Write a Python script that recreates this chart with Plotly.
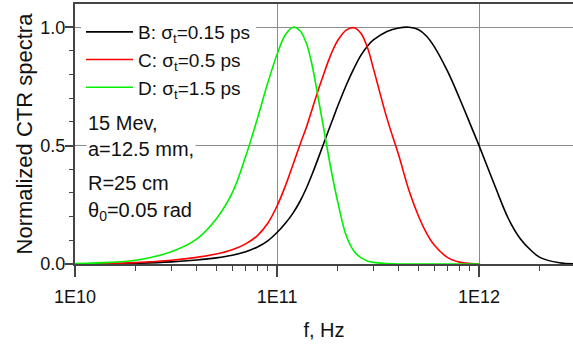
import plotly.graph_objects as go

# ---- data ----
freq_b = [1e10, 1.5e10, 2e10, 3e10, 4e10, 5e10, 6e10, 7e10, 8e10, 9e10,
          1.0e11, 1.1e11, 1.2e11, 1.3e11, 1.4e11, 1.5e11, 1.6e11, 1.7e11, 1.8e11, 1.9e11,
          2.0e11, 2.2e11, 2.4e11, 2.6e11, 2.8e11, 3.0e11, 3.5e11, 4.0e11, 4.5e11, 5.0e11,
          5.5e11, 6.0e11, 7.0e11, 8.0e11, 9.0e11, 1.0e12, 1.2e12, 1.4e12, 1.6e12, 1.8e12,
          2.0e12, 2.5e12, 2.95e12]
spec_b = [0.0, 0.001, 0.003, 0.009, 0.017, 0.026, 0.037, 0.052, 0.072, 0.098,
          0.133, 0.172, 0.215, 0.265, 0.322, 0.384, 0.447, 0.508, 0.565, 0.618,
          0.668, 0.755, 0.825, 0.881, 0.92, 0.946, 0.982, 0.997, 1.0, 0.99,
          0.962, 0.918, 0.812, 0.70, 0.595, 0.5, 0.328, 0.19, 0.107, 0.059,
          0.028, 0.005, 0.001]

freq_c = [1e10, 1.5e10, 2e10, 3e10, 4e10, 5e10, 6e10, 7e10, 8e10, 9e10,
          1.0e11, 1.1e11, 1.2e11, 1.3e11, 1.4e11, 1.5e11, 1.6e11, 1.7e11, 1.8e11, 1.9e11,
          2.0e11, 2.2e11, 2.4e11, 2.6e11, 2.8e11, 3.0e11, 3.5e11, 4.0e11, 4.5e11, 5.0e11,
          5.5e11, 6.0e11, 7.0e11, 8.0e11, 9.0e11, 1.0e12]
spec_c = [0.0, 0.002, 0.006, 0.016, 0.028, 0.042, 0.06, 0.085, 0.12, 0.172,
          0.245, 0.33, 0.42, 0.505, 0.58, 0.66, 0.735, 0.80, 0.86, 0.908,
          0.945, 0.988, 0.998, 0.975, 0.915, 0.825, 0.615, 0.46, 0.31, 0.205,
          0.13, 0.08, 0.027, 0.008, 0.002, 0.0]

freq_d = [1e10, 1.5e10, 2e10, 3e10, 4e10, 5e10, 6e10, 7e10, 8e10, 9e10,
          1.0e11, 1.1e11, 1.2e11, 1.3e11, 1.4e11, 1.5e11, 1.6e11, 1.7e11, 1.8e11, 1.9e11,
          2.0e11, 2.2e11, 2.4e11, 2.6e11, 2.8e11, 3.0e11, 3.5e11, 4.0e11, 5.0e11, 7.0e11,
          1.0e12]
spec_d = [0.002, 0.007, 0.016, 0.052, 0.105, 0.19, 0.30, 0.455, 0.615, 0.765,
          0.885, 0.968, 1.0, 0.985, 0.93, 0.83, 0.70, 0.575, 0.455, 0.35,
          0.26, 0.12, 0.055, 0.027, 0.013, 0.007, 0.002, 0.0, 0.0, 0.0,
          0.0]

series_names = ["B: σ<sub>t</sub>=0.15 ps", "C: σ<sub>t</sub>=0.5 ps", "D: σ<sub>t</sub>=1.5 ps"]
series_colors = ["#000000", "#ff0000", "#00f000"]

x_tick_vals = [1e10, 1e11, 1e12]
x_tick_text = ["1E10", "1E11", "1E12"]
y_tick_vals = [0.0, 0.5, 1.0]
y_tick_text = ["0.0", "0.5", "1.0"]

note_lines = ["15 Mev,", "a=12.5 mm,", "R=25 cm", "θ<sub>0</sub>=0.05 rad"]

FONT = "Liberation Sans, Arial, sans-serif"

fig = go.Figure()
for i, (fx, fy) in enumerate([(freq_b, spec_b), (freq_c, spec_c), (freq_d, spec_d)]):
    fig.add_trace(go.Scatter(
        x=fx, y=fy, mode="lines", name=series_names[i],
        legendgroup=f"g{i}",
        line=dict(color=series_colors[i], width=1.6, shape="spline", smoothing=1.0),
    ))

axis_col = "#444444"
grid_col = "#8c8c8c"

fig.update_xaxes(
    type="log", range=[10, 12.465], automargin=False,
    tickvals=x_tick_vals, ticktext=x_tick_text,
    ticks="outside", ticklen=11, tickwidth=1.5, tickcolor=axis_col,
    showline=True, linecolor=axis_col, linewidth=2, mirror=True,
    showgrid=True, gridcolor=grid_col, gridwidth=1,
    zeroline=False,
    minor=dict(ticks="outside", ticklen=5, tickwidth=1, tickcolor=axis_col,
               dtick="D1", showgrid=False),
    tickfont=dict(size=18, color="#111"),
    ticklabelstandoff=4,
    title=dict(text="f, Hz", font=dict(size=20, color="#111"), standoff=17),
)
fig.update_yaxes(
    range=[0, 1.098], automargin=False,
    tickvals=y_tick_vals, ticktext=y_tick_text,
    ticks="outside", ticklen=8, tickwidth=1.5, tickcolor=axis_col,
    showline=True, linecolor=axis_col, linewidth=2, mirror=False,
    showgrid=True, gridcolor=grid_col, gridwidth=1,
    zeroline=False,
    minor=dict(ticks="outside", ticklen=4, tickwidth=1, tickcolor=axis_col,
               dtick=0.1, showgrid=False),
    tickfont=dict(size=18, color="#111"),
    ticklabelstandoff=-4,
    title=dict(text="Normalized CTR spectra", font=dict(size=22, color="#111"), standoff=2),
)

note_y_px = [123, 149, 183, 212]
for txt, py in zip(note_lines, note_y_px):
    fig.add_annotation(
        xref="paper", yref="paper", x=(86 - 75) / 498, y=(264.5 - py) / 260.5,
        xanchor="left", yanchor="middle", text=txt, showarrow=False,
        font=dict(family=FONT, size=20, color="#111"),
        bgcolor="white", borderpad=1,
    )

fig.update_layout(
    width=573, height=344,
    margin=dict(l=75, r=0, t=4, b=80),
    paper_bgcolor="white", plot_bgcolor="white",
    font=dict(family=FONT, size=18, color="#111"),
    showlegend=True,
    legend=dict(x=(81 - 75) / 498, y=(264.5 - 13) / 260.5, xanchor="left", yanchor="top",
                bgcolor="white", borderwidth=0, tracegroupgap=0,
                font=dict(family=FONT, size=19, color="#111"), itemwidth=47),
)

fig.write_html(
    "out.html",
    config={"displayModeBar": False},
    post_script="document.body.style.margin='0px';document.body.style.overflow='hidden';",
)
